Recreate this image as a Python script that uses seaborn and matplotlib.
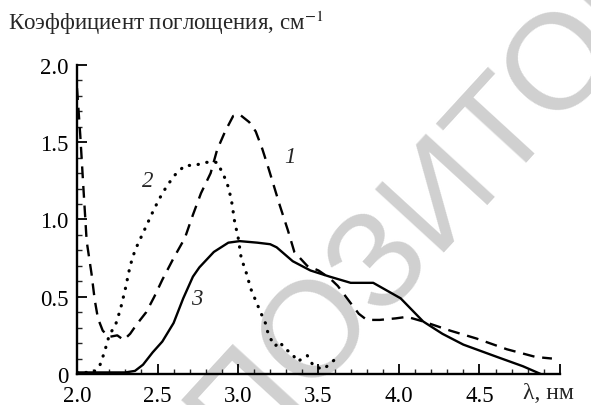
import matplotlib
matplotlib.use('Agg')
import matplotlib.pyplot as plt
import seaborn as sb
from matplotlib.ticker import MultipleLocator

# curve 1 (dashed)
x1 = [2.00, 2.02, 2.04, 2.06, 2.09, 2.11, 2.13, 2.16, 2.20, 2.25, 2.29, 2.33, 2.37,
      2.43, 2.48, 2.53, 2.60, 2.67, 2.72, 2.77, 2.83, 2.87, 2.92, 2.97, 3.01, 3.07,
      3.11, 3.15, 3.19, 3.26, 3.31, 3.35, 3.43, 3.50, 3.57, 3.62, 3.67, 3.75, 3.80,
      3.88, 3.98, 4.05, 4.15, 4.32, 4.48, 4.67, 4.85, 4.95]
y1 = [1.85, 1.55, 1.20, 0.86, 0.65, 0.48, 0.36, 0.28, 0.24, 0.25, 0.22, 0.26, 0.32,
      0.40, 0.50, 0.61, 0.75, 0.88, 1.03, 1.17, 1.30, 1.45, 1.57, 1.67, 1.68, 1.63,
      1.57, 1.46, 1.33, 1.09, 0.93, 0.79, 0.70, 0.67, 0.62, 0.57, 0.50, 0.39, 0.35,
      0.35, 0.36, 0.37, 0.34, 0.28, 0.23, 0.16, 0.11, 0.10]

# curve 2 (dotted)
x2 = [2.00, 2.10, 2.14, 2.17, 2.20, 2.24, 2.27, 2.30, 2.33, 2.36, 2.40, 2.44, 2.48,
      2.52, 2.56, 2.61, 2.67, 2.73, 2.80, 2.87, 2.91, 2.94, 2.96, 2.98, 3.00, 3.02,
      3.05, 3.08, 3.12, 3.14, 3.17, 3.19, 3.23, 3.26, 3.29, 3.33, 3.37, 3.43, 3.47,
      3.53, 3.62]
y2 = [0.01, 0.01, 0.05, 0.14, 0.25, 0.32, 0.42, 0.55, 0.70, 0.80, 0.89, 0.98, 1.07,
      1.15, 1.22, 1.29, 1.35, 1.35, 1.37, 1.37, 1.29, 1.21, 1.12, 0.98, 0.89, 0.75,
      0.66, 0.55, 0.45, 0.40, 0.33, 0.25, 0.18, 0.21, 0.16, 0.14, 0.08, 0.12, 0.05,
      0.03, 0.11]

# curve 3 (solid)
x3 = [2.00, 2.30, 2.36, 2.41, 2.47, 2.53, 2.60, 2.66, 2.72, 2.76, 2.85, 2.94, 3.01,
      3.12, 3.20, 3.24, 3.34, 3.45, 3.57, 3.70, 3.84, 4.01, 4.15, 4.27, 4.40, 4.61,
      4.77, 4.88]
y3 = [0.01, 0.01, 0.02, 0.06, 0.14, 0.21, 0.33, 0.49, 0.63, 0.69, 0.79, 0.85, 0.86,
      0.85, 0.84, 0.82, 0.73, 0.67, 0.63, 0.59, 0.59, 0.49, 0.34, 0.26, 0.19, 0.11,
      0.05, 0.00]

xticks = [2.0, 2.5, 3.0, 3.5, 4.0, 4.5, 5.0]
xlabels = ['2.0', '2.5', '3.0', '3.5', '4.0', '4.5', '']
yticks = [0, 0.5, 1.0, 1.5, 2.0]
ylabels = ['0', '0.5', '1.0', '1.5', '2.0']

sb.set_style('ticks')
plt.rcParams['font.family'] = ['Liberation Serif', 'DejaVu Serif']
plt.rcParams['mathtext.fontset'] = 'stix'

fig = plt.figure(figsize=(5.91, 4.06), dpi=100)
ax = fig.add_axes([0.1303, 0.0764, 0.8172, 0.761])
ax.patch.set_alpha(0)

# watermark behind everything
fig.text(0.748, 0.53, 'РЕПОЗИТОРИЙ', rotation=47.5, rotation_mode='anchor',
         ha='center', va='center', fontsize=98, color='#d0d0d0',
         family='Liberation Sans', zorder=-5)

sb.lineplot(x=x1, y=y1, ax=ax, color='black', linewidth=1.7,
            linestyle=(0, (5, 3.3)))
sb.lineplot(x=x2, y=y2, ax=ax, color='black', linewidth=2.3,
            linestyle=(0, (0.1, 2.7)), dash_capstyle='round')
sb.lineplot(x=x3, y=y3, ax=ax, color='black', linewidth=1.7)

ax.set_xlim(2.0, 5.0)
ax.set_ylim(0, 2.0)
ax.set_xticks(xticks)
ax.set_xticklabels(xlabels)
ax.set_yticks(yticks)
ax.set_yticklabels(ylabels)
ax.xaxis.set_minor_locator(MultipleLocator(0.1))
ax.yaxis.set_minor_locator(MultipleLocator(0.1))
ax.tick_params(which='major', direction='in', length=7, width=1.3,
               labelsize=16.5, colors='black')
ax.tick_params(which='minor', direction='in', length=3.5, width=1.0)
ax.tick_params(axis='y', pad=6)
ax.tick_params(axis='x', pad=8)
for s in ['top', 'right']:
    ax.spines[s].set_visible(False)
for s in ['left', 'bottom']:
    ax.spines[s].set_linewidth(1.7)
    ax.spines[s].set_color('black')

# curve numbers
ax.text(3.32, 1.41, '1', style='italic', fontsize=16.5, ha='center', va='center')
ax.text(2.44, 1.25, '2', style='italic', fontsize=16.5, ha='center', va='center')
ax.text(2.745, 0.49, '3', style='italic', fontsize=16.5, ha='center', va='center')

fig.text(0.013, 0.926, 'Коэффициент поглощения, см$^{-1}$', fontsize=16.5,
         ha='left', va='baseline')
ax.text(4.93, -0.12, 'λ, нм', fontsize=17, ha='center', va='center')

plt.savefig('out.png', dpi=100)
